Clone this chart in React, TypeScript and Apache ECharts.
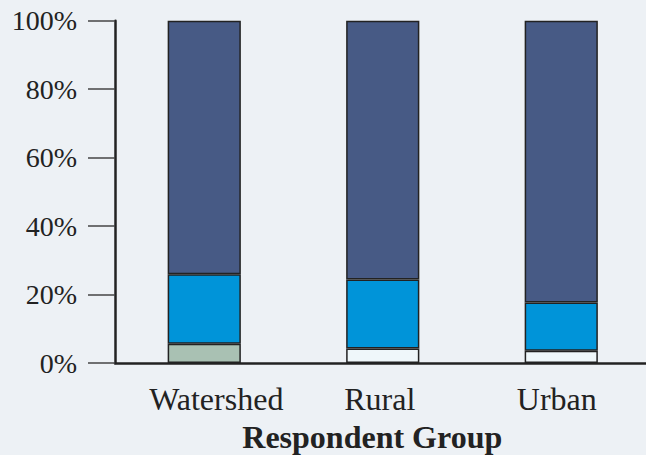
import React, { useEffect, useRef } from "react";
import * as echarts from "echarts";

const categories = ["Watershed", "Rural", "Urban"];
const bottomValues = [5.6, 4.2, 3.6];
const bottomColors = ["#A9C1B3", "#EFF7FA", "#EFF7FA"];
const middleValues = [20.3, 20.2, 14.1];
const topValues = [74.1, 75.6, 82.3];
const yTicks = [0, 20, 40, 60, 80, 100];

const FONT = "'Liberation Serif', 'Times New Roman', serif";
const labelPads = [
  [0, 0, 0, 24],
  [0, 6, 0, 0],
  [0, 9, 0, 0],
];

export default function App() {
  const ref = useRef<HTMLDivElement>(null);
  useEffect(() => {
    if (!ref.current) return;
    const chart = echarts.init(ref.current, null, { renderer: "svg" });
    const border = { borderColor: "#222222", borderWidth: 1.5 };
    chart.setOption({
      animation: false,
      backgroundColor: "#EDF1F5",
      grid: { left: 115, top: 20.7, width: 535.5, bottom: 92, containLabel: false, outerBoundsMode: "none" },
      xAxis: {
        type: "category",
        data: categories.map((c, i) => ({ value: c, textStyle: { padding: labelPads[i] } })),
        axisLine: { lineStyle: { color: "#222222", width: 2.5 } },
        axisTick: { show: false },
        axisLabel: { color: "#222222", fontFamily: FONT, fontSize: 32, margin: 20 },
        name: "Respondent Group",
        nameLocation: "middle",
        nameGap: 58,
        nameTextStyle: { color: "#222222", fontFamily: FONT, fontSize: 32, fontWeight: "bold", padding: [0, 21, 0, 0] },
      },
      yAxis: {
        type: "value",
        min: 0,
        max: 100,
        interval: 20,
        axisLine: { show: true, lineStyle: { color: "#222222", width: 2.5 } },
        axisTick: { show: true, inside: false, length: 27, lineStyle: { color: "#444444", width: 1.5 } },
        splitLine: { show: false },
        axisLabel: {
          color: "#222222",
          fontFamily: FONT,
          fontSize: 28,
          margin: 38,
          formatter: (v: number) => (yTicks.includes(v) ? v + "%" : ""),
        },
      },
      series: [
        {
          type: "bar",
          stack: "s",
          barWidth: "41%",
          data: bottomValues.map((v, i) => ({ value: v, itemStyle: { color: bottomColors[i], ...border } })),
        },
        {
          type: "bar",
          stack: "s",
          data: middleValues,
          itemStyle: { color: "#0094D9", ...border },
        },
        {
          type: "bar",
          stack: "s",
          data: topValues,
          itemStyle: { color: "#475A85", ...border },
        },
      ],
    });
    return () => chart.dispose();
  }, []);
  return <div ref={ref} style={{ width: 646, height: 455, position: "absolute", left: 0, top: 0 }} />;
}
